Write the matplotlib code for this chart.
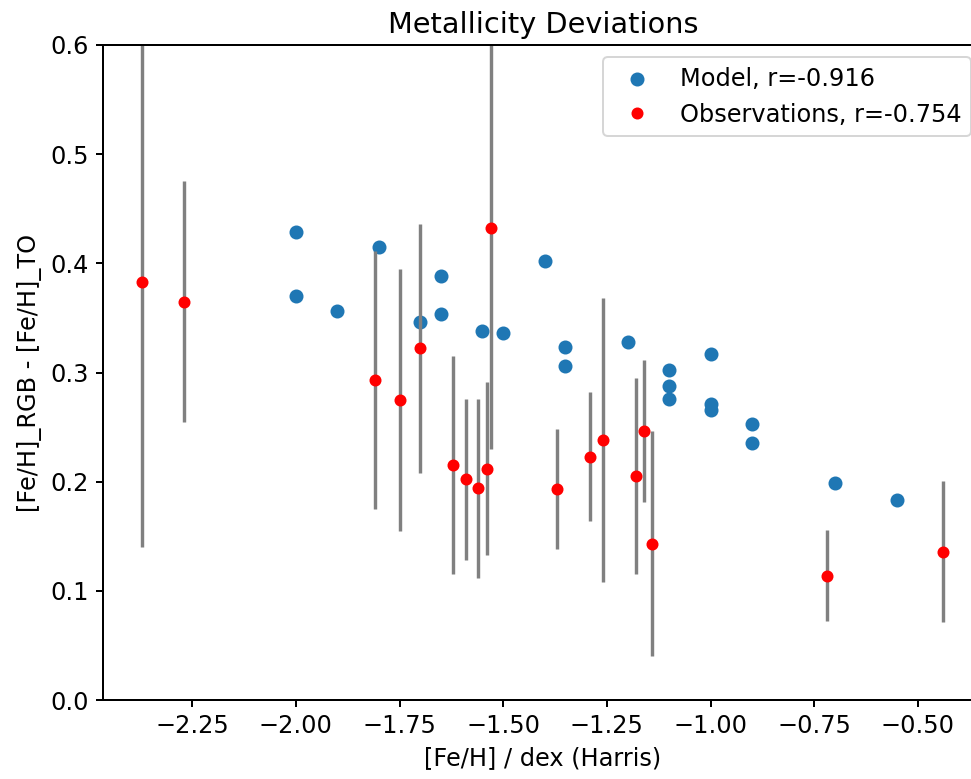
import matplotlib
matplotlib.use("Agg")
import matplotlib.pyplot as plt
import numpy as np

# model points
model_feh = [-2.00, -2.00, -1.90, -1.80, -1.70, -1.65, -1.65, -1.55, -1.50, -1.40,
             -1.35, -1.35, -1.20, -1.10, -1.10, -1.10, -1.00, -1.00, -1.00,
             -0.90, -0.90, -0.70, -0.55]
model_dev = [0.429, 0.370, 0.356, 0.415, 0.346, 0.388, 0.354, 0.338, 0.336, 0.402,
             0.323, 0.306, 0.328, 0.302, 0.288, 0.276, 0.317, 0.271, 0.266,
             0.253, 0.235, 0.199, 0.183]

# observations with errors
obs_feh = [-2.37, -2.27, -1.81, -1.75, -1.70, -1.62, -1.59, -1.56, -1.54, -1.53,
           -1.37, -1.29, -1.26, -1.18, -1.16, -1.14, -0.72, -0.44]
obs_dev = [0.383, 0.365, 0.293, 0.275, 0.322, 0.215, 0.202, 0.194, 0.212, 0.432,
           0.193, 0.223, 0.238, 0.205, 0.246, 0.143, 0.114, 0.136]
obs_err = [0.243, 0.110, 0.118, 0.120, 0.114, 0.100, 0.074, 0.082, 0.079, 0.202,
           0.055, 0.059, 0.130, 0.090, 0.065, 0.103, 0.042, 0.065]

r_model = -0.916
r_obs = -0.754

plt.rcParams['font.size'] = 12
plt.rcParams['axes.linewidth'] = 1.0
plt.rcParams['xtick.major.width'] = 1.0
plt.rcParams['ytick.major.width'] = 1.0

fig = plt.figure(figsize=(971 / 144, 779 / 144), dpi=144)
# axes runs a little past the right edge of the canvas, like the original crop
ax = fig.add_axes([103 / 971, 79 / 779, 880 / 971, 655 / 779])

ax.errorbar(obs_feh, obs_dev, yerr=obs_err, fmt='none', ecolor='grey', elinewidth=1.7)
ax.scatter(model_feh, model_dev, color='C0', label=f'Model, r={r_model}')
ax.plot(obs_feh, obs_dev, 'o', color='red', markersize=5, label=f'Observations, r={r_obs}')

ax.set_xlim(-2.465, -0.343)
ax.set_ylim(0, 0.6)
ax.set_yticks(np.arange(0, 0.61, 0.1))

ax.set_title("Metallicity Deviations")
ax.set_xlabel("[Fe/H] / dex (Harris)")
ax.set_ylabel("[Fe/H]_RGB - [Fe/H]_TO")
ax.legend(loc='upper right')

fig.savefig("out.png", dpi=144)
